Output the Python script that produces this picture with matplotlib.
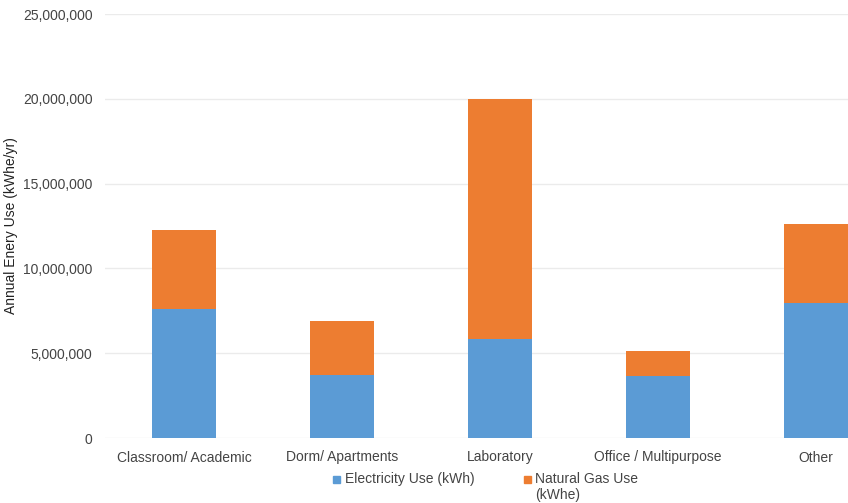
import matplotlib
matplotlib.use("Agg")
import matplotlib.pyplot as plt
from matplotlib.patches import Rectangle
from matplotlib.ticker import FuncFormatter

plt.rcParams['font.family'] = ['Liberation Sans', 'DejaVu Sans']

categories = ["Classroom/ Academic", "Dorm/ Apartments", "Laboratory",
              "Office / Multipurpose", "Other"]
electricity = [7_600_000, 3_720_000, 5_850_000, 3_660_000, 7_940_000]
natural_gas = [4_660_000, 3_200_000, 14_150_000, 1_470_000, 4_700_000]
series_labels = ["Electricity Use (kWh)", "Natural Gas Use\n(kWhe)"]
colors = ["#5b9bd5", "#ed7d31"]
y_ticks = [0, 5_000_000, 10_000_000, 15_000_000, 20_000_000, 25_000_000]

W, H = 848, 503
fig = plt.figure(figsize=(W / 100, H / 100), dpi=100)
# plot area runs past the right edge of the canvas
ax = fig.add_axes([105 / W, (H - 438) / H, (895 - 105) / W, (438 - 14) / H])

x = list(range(len(categories)))
width = 0.405
ax.bar(x, electricity, width, color=colors[0], zorder=3)
ax.bar(x, natural_gas, width, bottom=electricity, color=colors[1], zorder=3)

ax.set_xlim(-0.5, len(categories) - 0.5)
ax.set_ylim(0, 25_000_000)
ax.set_yticks(y_ticks)
ax.yaxis.set_major_formatter(FuncFormatter(lambda v, p: f"{int(v):,}"))
ax.set_xticks(x)
ax.set_xticklabels(categories)
ax.grid(axis="y", color="#ebebeb", linewidth=1, zorder=0)
ax.set_axisbelow(True)
for s in ax.spines.values():
    s.set_visible(False)
ax.tick_params(axis="both", length=0, labelsize=10, labelcolor="#444444")
ax.tick_params(axis="y", pad=9)
ax.tick_params(axis="x", pad=9)
ax.set_ylabel("Annual Enery Use (kWhe/yr)", fontsize=10, color="#222222")
ax.yaxis.set_label_coords(-(105 - 18) / (895 - 105), 0.5)

# legend below the plot
legend_items = [(333, 345), (524, 535)]
for (sx, tx), lab, col in zip(legend_items, series_labels, colors):
    fig.patches.append(Rectangle((sx / W, (H - 483) / H), 7 / W, 7 / H,
                                 transform=fig.transFigure, color=col))
    fig.text(tx / W, (H - 472) / H, lab, fontsize=10, color="#444444",
             va="top", ha="left", linespacing=1.2)

fig.savefig("out.png", dpi=100)
